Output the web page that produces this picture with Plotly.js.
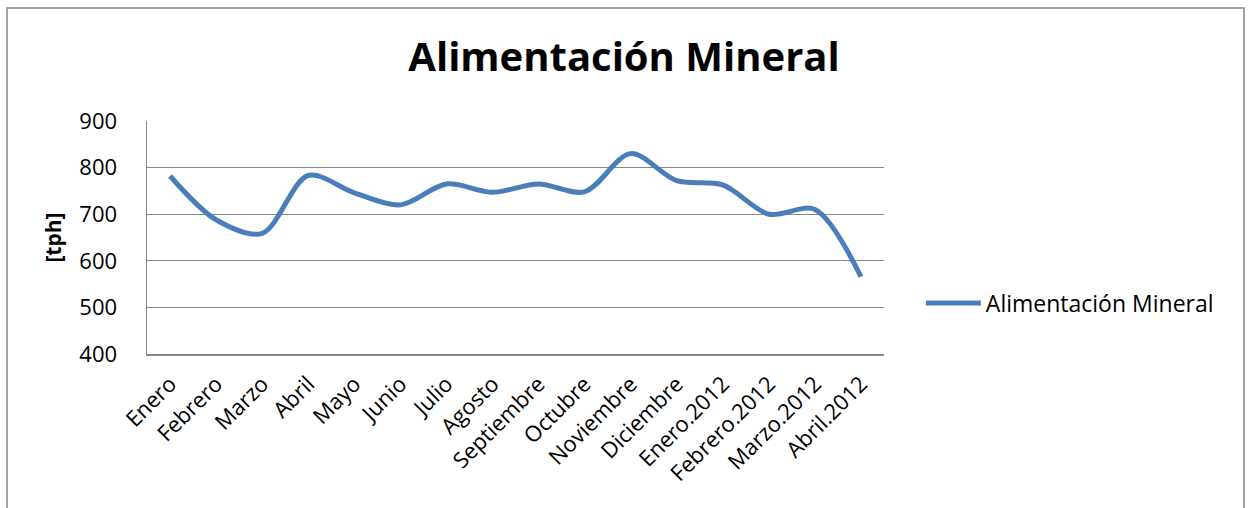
<!DOCTYPE html>
<html><head><meta charset="utf-8">
<script src="https://cdn.plot.ly/plotly-3.0.1.min.js"></script>
<style>body{margin:0;background:#fff}#c{width:1248px;height:508px}</style>
</head><body><div id="c"></div>
<script>
const categories = ["Enero","Febrero","Marzo","Abril","Mayo","Junio","Julio","Agosto","Septiembre","Octubre","Noviembre","Diciembre","Enero.2012","Febrero.2012","Marzo.2012","Abril.2012"];
const values = [782, 688, 659, 783, 746, 720, 765, 747, 765, 748, 830, 772, 763, 700, 710, 566];
const seriesName = "Alimentación Mineral";
const yTicks = [400, 500, 600, 700, 800, 900];

const font = "'Open Sans', sans-serif";
const trace = {
  x: categories, y: values, type: 'scatter', mode: 'lines', name: seriesName,
  line: {color: '#4a7ebb', width: 5, shape: 'spline', smoothing: 0.9}
};
const layout = {
  width: 1248, height: 508,
  margin: {l: 147, r: 364, t: 121, b: 154},
  paper_bgcolor: '#fff', plot_bgcolor: '#fff',
  font: {family: font, color: '#000'},
  title: {text: '<b>Alimentación Mineral</b>', font: {family: font, size: 40, color: '#000'},
          x: 0.5, xref: 'container', xanchor: 'center', y: 0.887, yref: 'container', yanchor: 'middle'},
  xaxis: {type: 'category', showgrid: false, showline: true, linecolor: '#868686', linewidth: 1.5,
          tickangle: -45, tickfont: {size: 22}, ticks: '', ticklabelstandoff: 7, range: [-0.5, 15.5]},
  yaxis: {range: [400, 900], tickvals: yTicks, showgrid: true, gridcolor: '#868686', gridwidth: 1.3,
          showline: true, linecolor: '#868686', linewidth: 1.5, zeroline: false,
          tickfont: {size: 22}, ticks: '', ticklabelstandoff: 24,
          title: {text: '<b>[tph]</b>', font: {size: 21}, standoff: 12}},
  showlegend: true,
  legend: {x: 1.05, xanchor: 'left', y: 0.219, yanchor: 'middle', font: {size: 23}, itemwidth: 55},
  shapes: [{type: 'rect', xref: 'paper', yref: 'paper', x0: -0.19, x1: 1.4885, y0: -0.75, y1: 1.485,
            line: {color: '#868686', width: 1.5}}]
};
Plotly.newPlot('c', [trace], layout, {displayModeBar: false, staticPlot: true});
</script></body></html>
